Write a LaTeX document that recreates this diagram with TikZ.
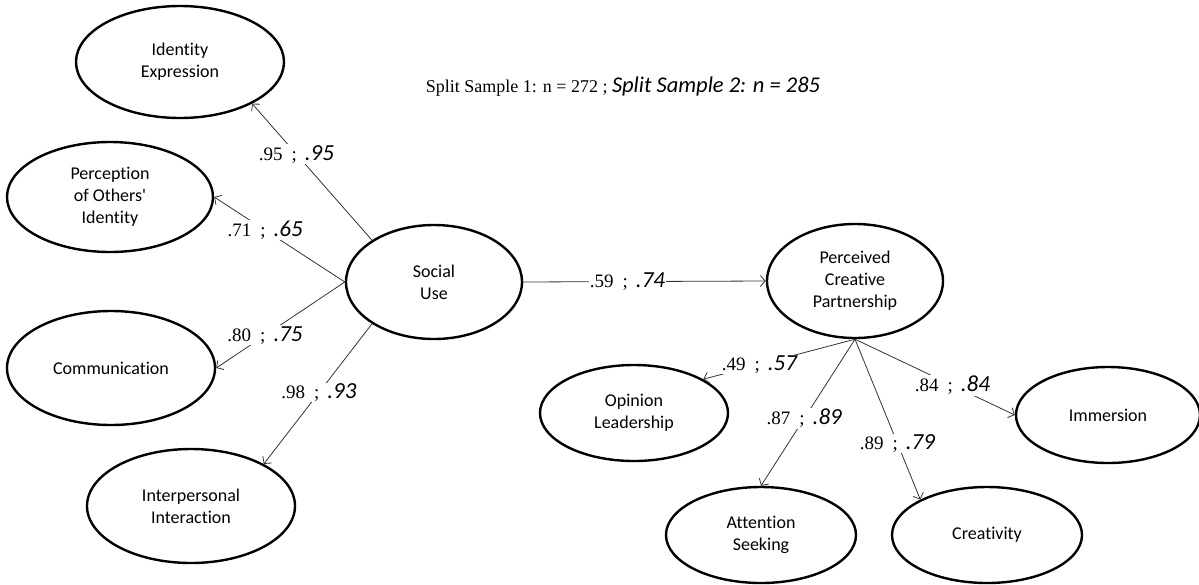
\documentclass[tikz,border=0pt]{standalone}
\usepackage{fontspec}
\setmainfont{Liberation Serif}
\newfontfamily\calibri{Carlito}[Ligatures=NoCommon]
\usetikzlibrary{shapes.geometric,arrows.meta}
\tikzstyle{factor} = [draw=black, line width=2.4pt, ellipse, inner sep=0pt,
    align=center, font=\calibri\fontsize{18}{22}\selectfont]
\tikzstyle{loadline} = [draw=black!80, line width=0.8pt,
    -{Straight Barb[length=5pt,width=11pt]}]
\tikzstyle{coef} = [fill=white, inner sep=1pt, font=\fontsize{19}{20}\selectfont]
\newcommand{\est}[2]{#1\hspace{9pt};\hspace{8pt}{\calibri\itshape\fontsize{23}{24}\selectfont #2}}

\begin{document}
\begin{tikzpicture}[x=1pt,y=-1pt]
                \useasboundingbox (0,0) rectangle (1199,584);
                \node[font=\fontsize{18}{20}\selectfont] (title) at (623,87) {Split Sample 1: n = 272 ; {\calibri\itshape\fontsize{22.5}{24}\selectfont Split Sample 2: n = 285}};
                \node[factor, minimum width=208pt, minimum height=112pt] (ie) at (180,62) {Identity\\Expression};
                \node[factor, minimum width=206pt, minimum height=110pt] (pe) at (110,197) {Perception\\of Others'\\Identity};
                \node[factor, minimum width=208pt, minimum height=114pt] (cm) at (111,368) {Communication};
                \node[factor, minimum width=208pt, minimum height=114pt] (ii) at (191,506) {Interpersonal\\Interaction};
                \node[factor, minimum width=176pt, minimum height=114pt] (su) at (434,282) {Social\\Use};
                \node[factor, minimum width=176pt, minimum height=114pt] (pcp) at (855,281) {Perceived\\Creative\\Partnership};
                \node[factor, minimum width=188pt, minimum height=96pt] (ol) at (634,413) {Opinion\\Leadership};
                \node[factor, minimum width=190pt, minimum height=96pt] (as) at (761,535) {Attention\\Seeking};
                \node[factor, minimum width=190pt, minimum height=96pt] (cr) at (987,535) {Creativity};
                \node[factor, minimum width=184pt, minimum height=96pt] (im) at (1108,415) {Immersion};
                \draw[loadline] (su.146) -- node[coef, pos=0.63] {\est{.95}{.95}} (ie.-30);
                \draw[loadline] (su.west) -- node[coef, pos=0.61] {\est{.71}{.65}} (pe.east);
                \draw[loadline] (su.west) -- node[coef, pos=0.62] {\est{.80}{.75}} (cm.east);
                \draw[loadline] (su.214) -- node[coef, pos=0.49] {\est{.98}{.93}} (ii.30);
                \draw[loadline] (su.east) -- node[coef, pos=0.43] {\est{.59}{.74}} (pcp.west);
                \draw[loadline] (pcp.south) -- node[coef, pos=0.63] {\est{.49}{.57}} (ol.26);
                \draw[loadline] (pcp.south) -- node[coef, pos=0.54] {\est{.87}{.89}} (as.north);
                \draw[loadline] (pcp.south) -- node[coef, pos=0.65] {\est{.89}{.79}} (cr.152);
                \draw[loadline] (pcp.south) -- node[coef, pos=0.61] {\est{.84}{.84}} (im.west);
            \end{tikzpicture}
\end{document}
